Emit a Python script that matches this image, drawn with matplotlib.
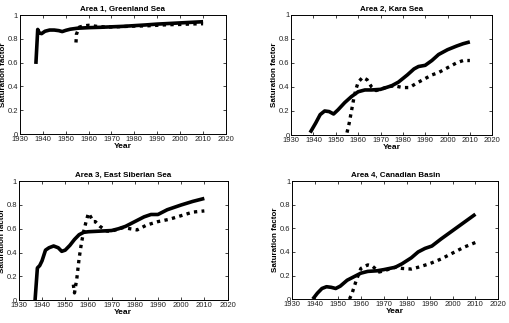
import numpy as np
import matplotlib
matplotlib.use("Agg")
import matplotlib.pyplot as plt

plt.rcParams['font.family'] = ['Liberation Sans', 'DejaVu Sans']

titles = ["Area 1, Greenland Sea", "Area 2, Kara Sea",
          "Area 3, East Siberian Sea", "Area 4, Canadian Basin"]

# solid series (year, saturation)
a1_yr = [1937, 1937.8, 1938.5, 1939.5, 1941, 1943, 1945, 1947, 1948.5, 1950, 1952, 1955,
         1960, 1965, 1970, 1975, 1980, 1985, 1990, 1995, 2000, 2005, 2010]
a1_val = [0.59, 0.88, 0.85, 0.845, 0.865, 0.875, 0.875, 0.87, 0.862, 0.872, 0.882, 0.89,
          0.895, 0.898, 0.902, 0.906, 0.912, 0.918, 0.925, 0.93, 0.935, 0.94, 0.945]
a1d_yr = [1954.5, 1954.6, 1954.7, 1956, 1958, 1960, 1962, 1964, 1968, 1972, 1976, 1980,
          1985, 1990, 1995, 2000, 2005, 2010]
a1d_val = [0.77, 0.8, 0.84, 0.9, 0.91, 0.915, 0.91, 0.905, 0.9, 0.902, 0.905, 0.908,
           0.91, 0.915, 0.92, 0.922, 0.926, 0.928]

a2_yr = [1938.5, 1941, 1943, 1945, 1947, 1949, 1951, 1954, 1957, 1960, 1963, 1966, 1970,
         1975, 1978, 1982, 1985, 1987, 1990, 1993, 1996, 2000, 2004, 2007, 2010]
a2_val = [0.02, 0.1, 0.17, 0.2, 0.195, 0.175, 0.21, 0.27, 0.32, 0.36, 0.375, 0.375, 0.38,
          0.41, 0.44, 0.5, 0.55, 0.57, 0.58, 0.62, 0.67, 0.71, 0.74, 0.76, 0.775]
a2d_yr = [1955, 1956, 1957, 1958, 1959, 1960, 1962, 1964, 1966, 1968, 1970, 1973, 1976,
          1980, 1983, 1986, 1990, 1993, 1996, 2000, 2004, 2007, 2010]
a2d_val = [0.02, 0.1, 0.2, 0.3, 0.38, 0.44, 0.48, 0.46, 0.4, 0.37, 0.38, 0.4, 0.41,
           0.395, 0.395, 0.43, 0.47, 0.5, 0.52, 0.56, 0.6, 0.62, 0.62]

a3_yr = [1937, 1938, 1939, 1940, 1941.5, 1943, 1945, 1947, 1948.5, 1950, 1952, 1954,
         1956, 1958, 1960, 1965, 1970, 1973, 1976, 1980, 1984, 1987, 1990, 1994, 2000,
         2005, 2010]
a3_val = [0.0, 0.27, 0.29, 0.33, 0.42, 0.44, 0.455, 0.44, 0.41, 0.42, 0.46, 0.51,
          0.55, 0.57, 0.575, 0.58, 0.585, 0.6, 0.62, 0.66, 0.7, 0.72, 0.72, 0.76, 0.8,
          0.83, 0.855]
a3d_yr = [1953.5, 1954, 1955, 1956, 1957, 1958, 1959, 1960, 1961, 1962, 1963, 1965,
          1968, 1970, 1975, 1978, 1981, 1985, 1990, 1995, 2000, 2005, 2010]
a3d_val = [0.13, 0.06, 0.18, 0.35, 0.48, 0.58, 0.66, 0.73, 0.7, 0.66, 0.66, 0.62,
           0.58, 0.58, 0.61, 0.6, 0.59, 0.63, 0.66, 0.68, 0.71, 0.74, 0.75]

a4_yr = [1939, 1941, 1943, 1945, 1947, 1949, 1951, 1954, 1957, 1960, 1963, 1967, 1970,
         1975, 1978, 1982, 1985, 1988, 1991, 1995, 2000, 2005, 2010]
a4_val = [0.0, 0.05, 0.09, 0.105, 0.1, 0.09, 0.11, 0.16, 0.19, 0.22, 0.235, 0.24, 0.25,
          0.27, 0.3, 0.35, 0.4, 0.43, 0.45, 0.51, 0.58, 0.65, 0.72]
a4d_yr = [1955, 1956, 1957, 1958, 1960, 1963, 1965, 1968, 1970, 1975, 1978, 1982, 1985,
          1990, 1995, 2000, 2005, 2010]
a4d_val = [0.0, 0.04, 0.1, 0.16, 0.26, 0.29, 0.28, 0.23, 0.24, 0.27, 0.26, 0.255, 0.27,
           0.3, 0.34, 0.39, 0.44, 0.48]

solid = [(a1_yr, a1_val), (a2_yr, a2_val), (a3_yr, a3_val), (a4_yr, a4_val)]
dotted = [(a1d_yr, a1d_val), (a2d_yr, a2d_val), (a3d_yr, a3d_val), (a4d_yr, a4d_val)]

xticks = list(range(1930, 2021, 10))
yticks = [0, 0.2, 0.4, 0.6, 0.8, 1]
ytick_labels = ["0", "0.2", "0.4", "0.6", "0.8", "1"]

# axes boxes in figure fractions [left, bottom, width, height]
boxes = [[0.039, 0.585, 0.405, 0.368],
         [0.572, 0.582, 0.395, 0.372],
         [0.037, 0.071, 0.410, 0.368],
         [0.574, 0.074, 0.405, 0.365]]

fig = plt.figure(figsize=(5.09, 3.23), dpi=100)
fig.set_facecolor("white")

for i in range(4):
    ax = fig.add_axes(boxes[i])
    ax.plot(solid[i][0], solid[i][1], color="black", lw=2.6, solid_capstyle="butt")
    ax.plot(dotted[i][0], dotted[i][1], color="black", lw=2.4,
            linestyle=(0, (1.0, 1.3)))
    ax.set_xlim(1930, 2020)
    ax.set_ylim(0, 1)
    ax.set_xticks(xticks)
    ax.set_yticks(yticks)
    ax.set_yticklabels(ytick_labels)
    ax.tick_params(direction="in", length=2, width=0.6, labelsize=5.5, pad=1.2,
                   top=True, right=True, colors="#222222")
    for s in ax.spines.values():
        s.set_linewidth(0.7)
    ax.set_title(titles[i], fontsize=5.8, fontweight="bold", pad=3)
    ax.set_xlabel("Year", fontsize=6, fontweight="bold", labelpad=0)
    ax.set_ylabel("Saturation factor", fontsize=5.8, fontweight="bold", labelpad=0.5)

fig.savefig("out.png", dpi=100)
